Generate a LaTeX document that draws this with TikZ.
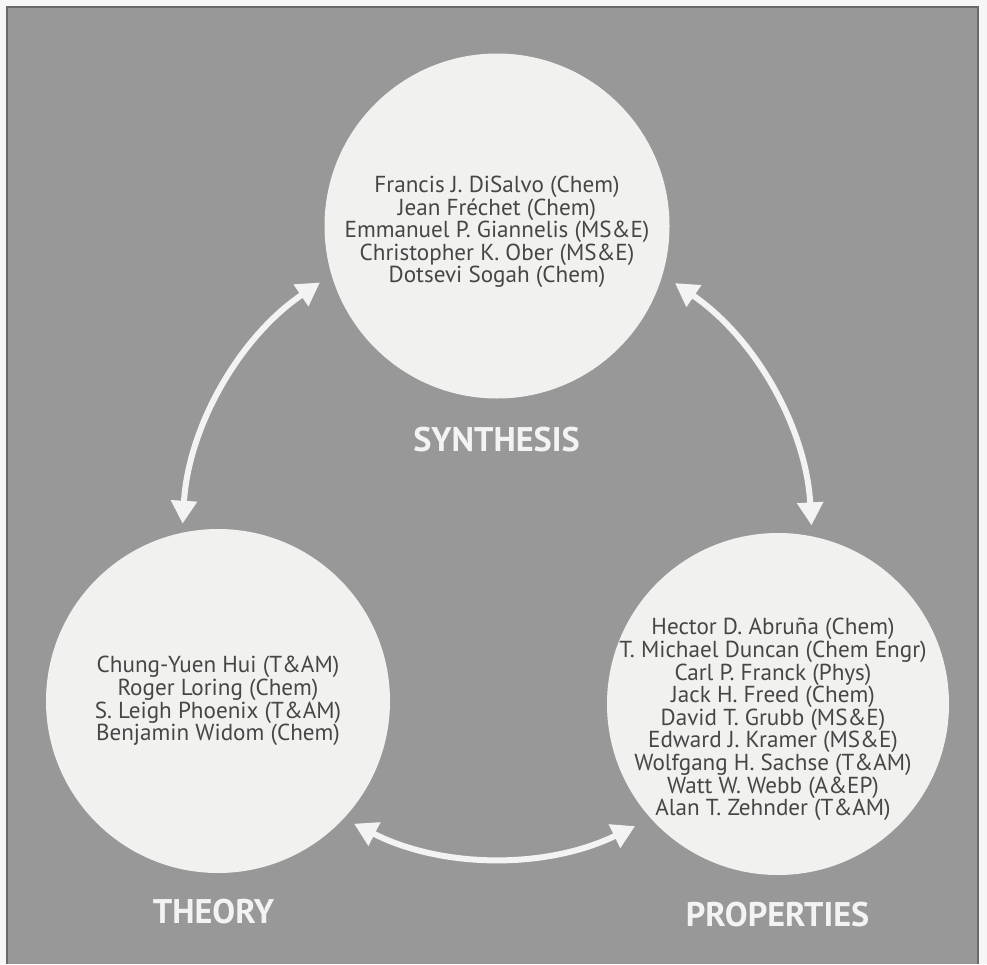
\documentclass[tikz,border=0pt]{standalone}
\usepackage{fontspec}
\setmainfont{PT Sans}
\usetikzlibrary{arrows.meta}
\definecolor{bg}{RGB}{152,152,152}
\definecolor{disc}{RGB}{241,241,239}
\definecolor{ink}{RGB}{70,70,70}
\definecolor{lab}{RGB}{243,243,243}
\definecolor{paper}{RGB}{246,246,246}
\definecolor{edge}{RGB}{105,105,105}
\newlength\wtmp
\newlength\wtmpb
\begin{document}%
\settowidth\wtmp{\fontsize{10}{12}\selectfont Emmanuel P. Giannelis (MS\&E)}%
\settowidth\wtmpb{\fontsize{10}{12}\selectfont T. Michael Duncan (Chem Engr)}%
\pgfmathsetmacro\bsz{10*612/(\wtmp+\wtmpb)}%
\settowidth\wtmp{\fontsize{10}{12}\selectfont\bfseries THEORYPROPERTIESSYNTHESIS}%
\pgfmathsetmacro\lsz{10*471/\wtmp}%
\begin{tikzpicture}[x=1pt,y=-1pt,
  disc/.style={circle,fill=disc,draw=none,inner sep=0pt,minimum size=#1},
  names/.style={align=center,text=ink,inner sep=0pt,font=\fontsize{\bsz}{22.6}\selectfont},
  lbl/.style={text=lab,inner sep=0pt,anchor=base,font=\fontsize{\lsz}{\lsz}\selectfont\bfseries},
  link/.style={draw=lab,line width=6pt,{Triangle[length=23pt,width=25pt]}-{Triangle[length=23pt,width=25pt]}}]
\useasboundingbox (0,0) rectangle (987,964);
\fill[paper] (0,0) rectangle (987,964);
\fill[bg] (7,7) rectangle (978,964);
\draw[edge,line width=1.2pt] (7,964) -- (7,7) -- (978,7) -- (978,964);
% circles
\node[disc=345pt] (syn) at (497,226) {};
\node[disc=344pt] (the) at (218,701) {};
\node[disc=342pt] (pro) at (778,704) {};
% names
\node[names] (synnames) at (497,232) {Francis J. DiSalvo (Chem)\\Jean Fréchet (Chem)\\Emmanuel P. Giannelis (MS\&E)\\Christopher K. Ober (MS\&E)\\Dotsevi Sogah (Chem)};
\node[names] (thenames) at (218,701) {Chung-Yuen Hui (T\&AM)\\Roger Loring (Chem)\\S. Leigh Phoenix (T\&AM)\\Benjamin Widom (Chem)};
\node[names] (pronames) at (773,719.5) {Hector D. Abruña (Chem)\\T. Michael Duncan (Chem Engr)\\Carl P. Franck (Phys)\\Jack H. Freed (Chem)\\David T. Grubb (MS\&E)\\Edward J. Kramer (MS\&E)\\Wolfgang H. Sachse (T\&AM)\\Watt W. Webb (A\&EP)\\Alan T. Zehnder (T\&AM)};
% labels
\node[lbl] (synlab) at (496.5,451) {SYNTHESIS};
\node[lbl] (thelab) at (213.5,923) {THEORY};
\node[lbl] (prolab) at (777.5,926) {PROPERTIES};
% arrows on a common circle
\coordinate (hub) at (497,543);
\coordinate (sp1) at ([shift={(-55.6:315)}]hub);
\coordinate (st1) at ([shift={(-124.2:315)}]hub);
\coordinate (tp1) at ([shift={(-243:315)}]hub);
\draw[link] (sp1) arc[start angle=-55.6,end angle=-3.2,radius=315];
\draw[link] (st1) arc[start angle=-124.2,end angle=-176.5,radius=315];
\draw[link] (tp1) arc[start angle=-243,end angle=-296,radius=315];
\end{tikzpicture}%
\end{document}
